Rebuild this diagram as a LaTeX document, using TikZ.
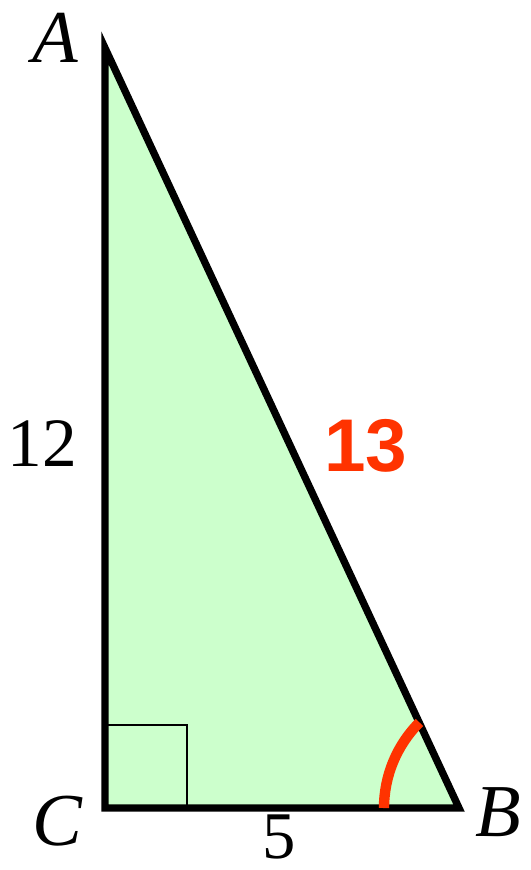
\documentclass[tikz,border=0pt]{standalone}
\usepackage{fontspec}
\setmainfont{Liberation Serif}
\newfontfamily\arialfont{Liberation Sans}
\definecolor{trifill}{HTML}{CCFFCC}
\definecolor{anglered}{HTML}{FF3300}
\begin{document}
\begin{tikzpicture}[x=0.75pt,y=-0.75pt,
  side/.style={draw=black,line width=5.5pt,line join=miter},
  vlabel/.style={font=\fontsize{56}{60}\selectfont\itshape,inner sep=0pt},
  nlabel/.style={font=\fontsize{52}{56}\selectfont,inner sep=0pt},
  hlabel/.style={font=\fontsize{56}{60}\selectfont\arialfont\bfseries,text=anglered,inner sep=0pt}]
\useasboundingbox (0,0) rectangle (531,870);
\coordinate (A) at (105,48);
\coordinate (C) at (105,808);
\coordinate (B) at (459,808);
\fill[trifill] (A) -- (C) -- (B) -- cycle;
\draw[line width=1.6pt] (105,725) -| (187,808);
\draw[side] (A) -- (C) -- (B) -- cycle;
\draw[anglered,line width=7.8pt] (384,808) arc[start angle=180,end angle=225,radius=121];
\node[vlabel] (lA) at (55,38) {A};
\node[vlabel] (lC) at (57,821) {C};
\node[vlabel] (lB) at (498,812) {B};
\node[nlabel] (l12) at (42,444) {12};
\node[nlabel,font=\fontsize{50}{54}\selectfont] (l5) at (279,837) {5};
\node[hlabel] (l13) at (366,446) {13};
\end{tikzpicture}
\end{document}
